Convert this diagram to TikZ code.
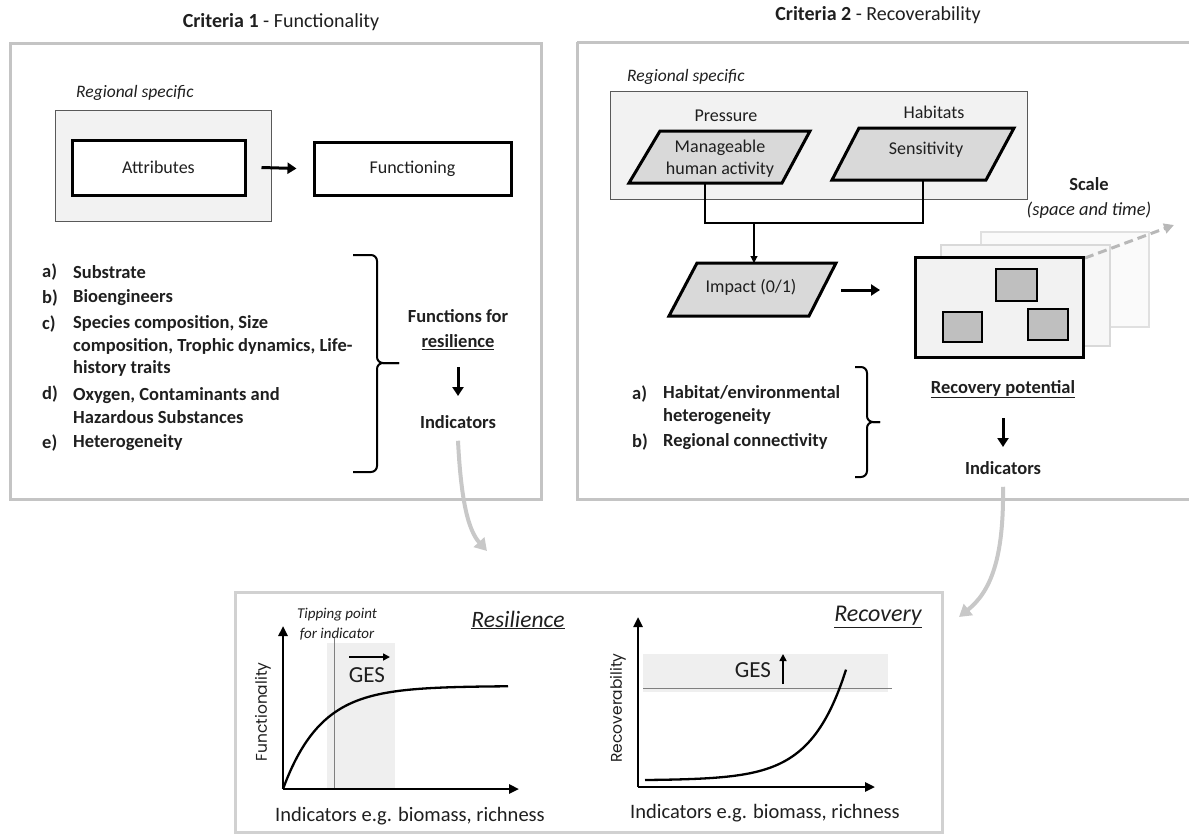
\documentclass[tikz,border=0pt]{standalone}
\usepackage{fontspec}
\setmainfont{Carlito}
\newfontfamily\popfont{Poppins}
\usetikzlibrary{arrows.meta}
\definecolor{panelgray}{HTML}{C4C4C4}
\definecolor{boxfill}{HTML}{F2F2F2}
\definecolor{parafill}{HTML}{D9D9D9}
\definecolor{sqfill}{HTML}{BFBFBF}
\definecolor{txt}{HTML}{1F1F1F}
\definecolor{bandfill}{HTML}{EFEFEF}
\definecolor{curvegray}{HTML}{C8C8C8}
\definecolor{thingray}{HTML}{7F7F7F}
\begin{document}
\begin{tikzpicture}[x=1pt,y=-1pt,
  every node/.style={text=txt, inner sep=0pt},
  base/.style={font=\fontsize{18}{22}\selectfont},
  bold/.style={font=\bfseries\fontsize{18.5}{22}\selectfont},
  titlefont/.style={font=\fontsize{20}{24}\selectfont},
  ital/.style={font=\itshape\fontsize{17.5}{21}\selectfont},
  item/.style={anchor=west, align=left, font=\bfseries\fontsize{18.5}{22.5}\selectfont},
  panelbox/.style={draw=panelgray, line width=3pt},
  regionbox/.style={draw=black!65, line width=0.8pt, fill=boxfill},
  thickbox/.style={draw=black, line width=3pt, fill=white, font=\fontsize{18}{22}\selectfont},
  parashape/.style={draw=black, line width=3pt, fill=parafill, line join=miter},
  blackarrow/.style={line width=3pt, -{Triangle[length=9pt,width=11pt]}},
  thinline/.style={line width=1.1pt, draw=black},
  grayarrow/.style={draw=curvegray, line width=4pt, -{Triangle[length=12pt,width=14pt]}},
  brk/.style={line width=2pt, rounded corners=6pt},
  axis/.style={line width=2.4pt, -{Triangle[length=10pt,width=9pt]}},
  layer/.style={line width=2.5pt},
  sq/.style={draw=black, line width=2.5pt, fill=sqfill}
]
\useasboundingbox (0,0) rectangle (1189,835);

% ================= Criteria 1 =================
\node[titlefont] (title1) at (281,22) {\textbf{Criteria 1} - Functionality};
\draw[panelbox] (10,43) rectangle (541,499);
\node[ital, anchor=west] (reg1) at (76,93) {Regional specific};
\draw[regionbox] (55,110) rectangle (271,221);
\node[thickbox, minimum width=173pt, minimum height=55pt] (attr) at (158.5,167.5) {Attributes};
\node[thickbox, minimum width=197pt, minimum height=53pt] (func) at (412.5,168.5) {Functioning};
\draw[blackarrow] ([xshift=15pt]attr.east) -- ([xshift=-16pt]func.west);

\node[item] (la) at (42,272) {a)};
\node[item] (ta) at (73,272) {Substrate};
\node[item] (lb) at (42,298) {b)};
\node[item] (tb) at (73,298) {Bioengineers};
\node[item] (lc) at (42,324) {c)};
\node[item] (tc) at (73,346) {Species composition, Size\\composition, Trophic dynamics, Life-\\history traits};
\node[item] (ld) at (42,394) {d)};
\node[item] (td) at (73,405.5) {Oxygen, Contaminants and\\Hazardous Substances};
\node[item] (le) at (42,443) {e)};
\node[item] (te) at (73,443) {Heterogeneity};

\draw[brk] (353,255) -| (377,363) -- (399,363);
\draw[brk] (353,472) -| (377,363) -- (399,363);

\node[bold] (funcfor) at (458,316) {Functions for};
\node[bold] (resil) at (458,342) {\underline{resilience}};
\node[bold] (ind1) at (458,422) {Indicators};
\draw[blackarrow] (458,367) -- (458,396);

% ================= Criteria 2 =================
\node[titlefont] (title2) at (878,15) {\textbf{Criteria 2} - Recoverability};
\draw[panelbox] (577,42) -- (1195,42) (577,42) -- (577,499) -- (1195,499);
\node[ital, anchor=west] (reg2) at (627,77) {Regional specific};
\draw[regionbox] (610,91) rectangle (1027,199);
\node[base] (press) at (726,116) {Pressure};
\node[base] (habit) at (934,112) {Habitats};

\draw[parashape] (660,131) -- (810,131) -- (782,183) -- (629,183) -- cycle;
\node[base, align=center] (manage) at (720,159) {Manageable\\human activity};
\draw[parashape] (859,128) -- (1014,128) -- (986,180) -- (832,180) -- cycle;
\node[base] (sens) at (926,150) {Sensitivity};
\draw[parashape] (697,263) -- (836,263) -- (809,316) -- (669,316) -- cycle;
\node[base] (impact) at (751,287) {Impact (0/1)};

\coordinate (mbot) at (705,183);
\coordinate (sbot) at (923,180);
\coordinate (join) at (754,223);
\coordinate (itop) at (754,263);
\draw[thinline] (mbot) |- (join) -| (sbot);
\draw[thinline, -{Triangle[length=7pt,width=7pt]}] (join) -- (itop);

\draw[blackarrow] (841,290) -- (880,290);

% scale layers
\draw[layer, draw=black!12, fill=black!2] (981,232) rectangle (1149,327);
\draw[layer, draw=black!15, fill=black!3] (941,245) rectangle (1110,346);
\coordinate (dashend) at (1174,225);
\draw[draw=black!28, line width=3pt, dash pattern=on 9pt off 5pt, -{Triangle[length=10pt,width=10pt]}] (1085,258) -- (dashend);
\node[draw=black, line width=3pt, fill=boxfill, minimum width=168pt, minimum height=100pt] (map) at (999,307.5) {};
\draw[sq] (996,269) rectangle (1037,301);
\draw[sq] (943,312) rectangle (982,342);
\draw[sq] (1028,309) rectangle (1068,340);
\node[bold] (scale) at (1089,184) {Scale};
\node[font=\itshape\fontsize{18.5}{22}\selectfont] (spt) at (1089,210) {(space and time)};

\node[item] (ra) at (632,394) {a)};
\node[item] (rta) at (663,405) {Habitat/environmental\\heterogeneity};
\node[item] (rb) at (632,442) {b)};
\node[item] (rtb) at (663,442) {Regional connectivity};
\draw[brk] (855,367) -| (867,422) -- (880,422);
\draw[brk] (855,477) -| (867,422) -- (880,422);

\node[bold] (recpot) at (1003,389) {\underline{Recovery potential}};
\draw[blackarrow] (1003,418) -- (1003,447);
\node[bold] (ind2) at (1003,468) {Indicators};

% ================= bottom panel =================
\draw[panelbox, draw=black!18] (235,592) rectangle (942,832);

\coordinate (tipL) at (487,551);
\coordinate (tipR) at (959,617);
\draw[grayarrow] (ind1.south) ++(0,12) .. controls (461,500) and (468,530) .. (tipL);
\draw[grayarrow] (ind2.south) ++(0,12) .. controls (1004,560) and (990,592) .. (tipR);

% left graph
\fill[bandfill] (327,643) rectangle (395,789);
\draw[thingray, line width=1pt] (334,638) -- (334,789);
\coordinate (o1) at (283,789);
\draw[axis] (o1) -- (283,626);
\draw[axis] (o1) -- (519,789);
\draw[line width=2.3pt] plot[domain=283:508, samples=80, smooth] (\x, {789-103*(1-exp(-(\x-283)/38))});
\draw[line width=1.6pt, -{Triangle[length=7pt,width=7pt]}] (349,657) -- (390,657);
\node[font=\fontsize{23}{26}\selectfont] (ges1) at (367,675) {GES};
\node[font=\itshape\fontsize{15}{20}\selectfont, align=center] (tipping) at (337,624) {Tipping point\\for indicator};
\node[font=\itshape\fontsize{23.5}{27}\selectfont] (resT) at (518,620) {\underline{Resilience}};
\node[rotate=90, font=\popfont\fontsize{15.5}{18}\selectfont] (fylab) at (263,712) {Functionality};
\node[font=\fontsize{20.5}{24}\selectfont] (fxlab) at (410,816) {Indicators e.g. biomass, richness};

% right graph
\fill[bandfill] (643,654) rectangle (888,692);
\draw[thingray, line width=1pt] (643,688) -- (892,688);
\coordinate (o2) at (638,787);
\draw[axis] (o2) -- (638,617);
\draw[axis] (o2) -- (875,787);
\draw[line width=2.3pt] plot[domain=645:846, samples=80, smooth] (\x, {780-0.355*(exp((\x-645)/35)-1)});
\node[font=\fontsize{23}{26}\selectfont] (ges2) at (753,670) {GES};
\draw[line width=1.6pt, -{Triangle[length=7pt,width=7pt]}] (783,684) -- (783,654);
\node[font=\itshape\fontsize{24}{28}\selectfont] (recT) at (878,617) {\underline{Recovery}};
\node[rotate=90, font=\popfont\fontsize{15.5}{18}\selectfont] (rylab) at (618,708) {Recoverability};
\node[font=\fontsize{20.5}{24}\selectfont] (rxlab) at (765,813) {Indicators e.g. biomass, richness};
\end{tikzpicture}
\end{document}
